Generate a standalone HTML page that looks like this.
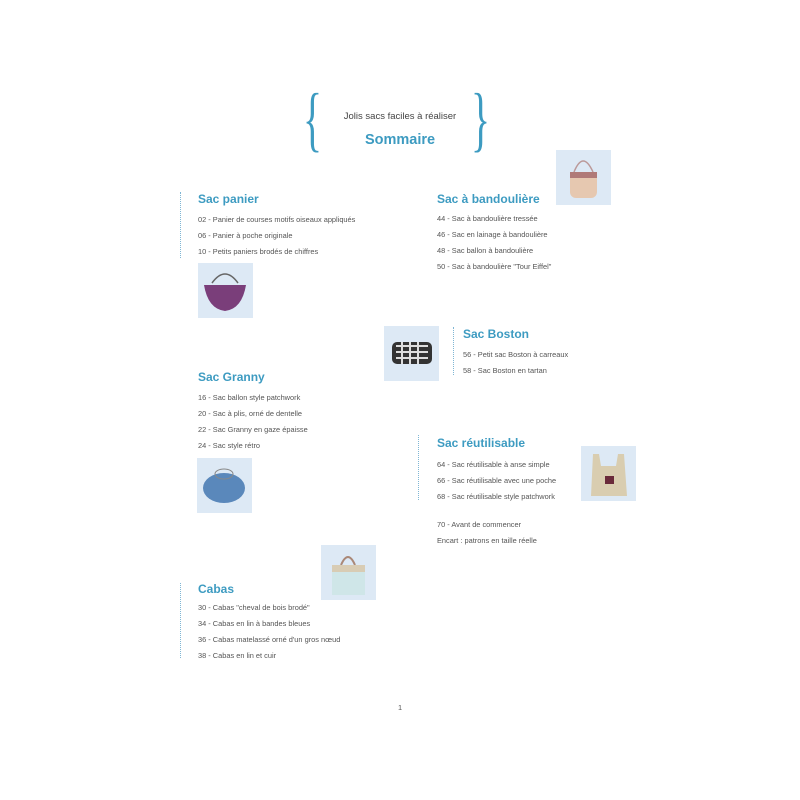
<!DOCTYPE html>
<html><head><meta charset="utf-8"><style>
body{margin:0;width:800px;height:800px;background:#fff;position:relative;font-family:"Liberation Sans",sans-serif;overflow:hidden}
.a{position:absolute;white-space:nowrap}
.h{color:#3d9bc1;font-weight:bold;font-size:12px}
.t{color:#555;font-size:7.4px}
.img{position:absolute;background:#dde9f5;width:55px;height:55px}
.dl{position:absolute;border-left:1.5px dotted #7fb6d4;width:0}
</style></head><body>
<div class="a" style="left:303px;top:78px;font-size:72px;color:#3d9bc1;font-family:'Liberation Serif',serif;transform:scaleX(0.55);transform-origin:left top">{</div>
<div class="a" style="left:471px;top:78px;font-size:72px;color:#3d9bc1;font-family:'Liberation Serif',serif;transform:scaleX(0.55);transform-origin:left top">}</div>
<div class="a" style="left:335px;top:111px;width:130px;text-align:center;font-size:9.5px;color:#444">Jolis sacs faciles à réaliser</div>
<div class="a" style="left:335px;top:132px;width:130px;text-align:center;font-size:14.5px;font-weight:bold;color:#3d9bc1">Sommaire</div>

<div class="dl" style="left:180px;top:192px;height:66px"></div>
<div class="a h" style="left:198px;top:192px">Sac panier</div>
<div class="a t" style="left:198px;top:215px">02 - Panier de courses motifs oiseaux appliqués</div>
<div class="a t" style="left:198px;top:231px">06 - Panier à poche originale</div>
<div class="a t" style="left:198px;top:247px">10 - Petits paniers brodés de chiffres</div>
<div class="img" style="left:198px;top:263px"><svg width="55" height="55"><path d="M14 20 Q27 2 40 20" stroke="#666" fill="none" stroke-width="1.5"/><path d="M6 22 L48 22 Q44 46 27 48 Q10 46 6 22Z" fill="#7a3e7a"/></svg></div>

<div class="a h" style="left:437px;top:192px">Sac à bandoulière</div>
<div class="a t" style="left:437px;top:214px">44 - Sac à bandoulière tressée</div>
<div class="a t" style="left:437px;top:230px">46 - Sac en lainage à bandoulière</div>
<div class="a t" style="left:437px;top:246px">48 - Sac ballon à bandoulière</div>
<div class="a t" style="left:437px;top:262px">50 - Sac à bandoulière "Tour Eiffel"</div>
<div class="img" style="left:556px;top:150px"><svg width="55" height="55"><path d="M18 22 Q27 0 37 22" stroke="#b99" fill="none" stroke-width="1.5"/><rect x="14" y="22" width="27" height="26" rx="6" fill="#e6c8b0"/><rect x="14" y="22" width="27" height="6" fill="#b07a78"/></svg></div>

<div class="img" style="left:384px;top:326px"><svg width="56" height="55"><rect x="8" y="16" width="40" height="22" rx="5" fill="#333"/><path d="M12 20h32M12 26h32M12 32h32M18 16v22M26 16v22M34 16v22" stroke="#ddd" stroke-width="2"/></svg></div>
<div class="dl" style="left:453px;top:327px;height:48px"></div>
<div class="a h" style="left:463px;top:327px">Sac Boston</div>
<div class="a t" style="left:463px;top:350px">56 - Petit sac Boston à carreaux</div>
<div class="a t" style="left:463px;top:366px">58 - Sac Boston en tartan</div>

<div class="a h" style="left:198px;top:370px">Sac Granny</div>
<div class="a t" style="left:198px;top:393px">16 - Sac ballon style patchwork</div>
<div class="a t" style="left:198px;top:409px">20 - Sac à plis, orné de dentelle</div>
<div class="a t" style="left:198px;top:425px">22 - Sac Granny en gaze épaisse</div>
<div class="a t" style="left:198px;top:441px">24 - Sac style rétro</div>
<div class="img" style="left:197px;top:458px"><svg width="55" height="55"><ellipse cx="27" cy="30" rx="21" ry="15" fill="#5a88bb"/><ellipse cx="27" cy="16" rx="9" ry="5" stroke="#888" fill="none"/></svg></div>

<div class="dl" style="left:418px;top:435px;height:65px"></div>
<div class="a h" style="left:437px;top:436px">Sac réutilisable</div>
<div class="a t" style="left:437px;top:460px">64 - Sac réutilisable à anse simple</div>
<div class="a t" style="left:437px;top:476px">66 - Sac réutilisable avec une poche</div>
<div class="a t" style="left:437px;top:492px">68 - Sac réutilisable style patchwork</div>
<div class="img" style="left:581px;top:446px"><svg width="55" height="55"><path d="M12 8 L18 8 L20 20 L35 20 L37 8 L43 8 L46 50 L10 50Z" fill="#d9cdb0"/><rect x="24" y="30" width="9" height="8" fill="#6a2a3a"/></svg></div>
<div class="a t" style="left:437px;top:520px">70 - Avant de commencer</div>
<div class="a t" style="left:437px;top:536px">Encart : patrons en taille réelle</div>

<div class="img" style="left:321px;top:545px"><svg width="55" height="55"><path d="M20 20 Q27 4 34 20" stroke="#a87" fill="none" stroke-width="2"/><rect x="11" y="20" width="33" height="30" fill="#cfe6e8"/><rect x="11" y="20" width="33" height="7" fill="#d8ccb4"/></svg></div>
<div class="dl" style="left:180px;top:583px;height:75px"></div>
<div class="a h" style="left:198px;top:582px">Cabas</div>
<div class="a t" style="left:198px;top:603px">30 - Cabas "cheval de bois brodé"</div>
<div class="a t" style="left:198px;top:619px">34 - Cabas en lin à bandes bleues</div>
<div class="a t" style="left:198px;top:635px">36 - Cabas matelassé orné d'un gros nœud</div>
<div class="a t" style="left:198px;top:651px">38 - Cabas en lin et cuir</div>

<div class="a t" style="left:398px;top:703px">1</div>
</body></html>
